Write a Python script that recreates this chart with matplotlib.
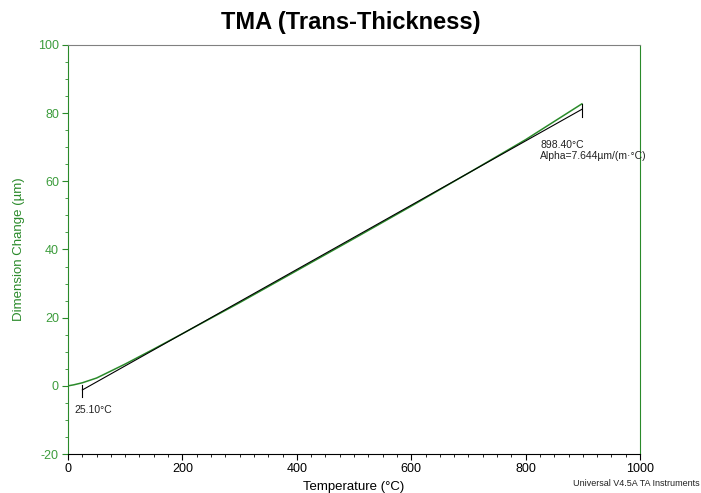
import matplotlib.pyplot as plt
from matplotlib.ticker import MultipleLocator

plt.rcParams['font.family'] = ['Liberation Sans', 'DejaVu Sans']
plt.rcParams['axes.unicode_minus'] = False

# measured dimension change (green trace)
temp = [0, 10, 25, 50, 100, 150, 200, 300, 400, 500, 600, 700, 800, 898.4]
dim_change = [0.0, 0.3, 0.9, 2.3, 6.4, 10.8, 15.3, 24.4, 33.8, 43.2, 52.7, 62.4, 72.2, 82.7]

# alpha fit line between the two analysis points
fit_temp = [25.10, 898.40]
fit_dim = [-1.2, 81.1]
alpha_label = 'Alpha=7.644µm/(m·°C)'

green = '#2a8a2a'
label_green = '#3c9c3c'

fig = plt.figure(figsize=(7.01, 4.93), dpi=100)
ax = fig.add_axes([0.097, 0.079, 0.816, 0.830])

ax.plot(temp, dim_change, color=green, lw=1.1)
ax.plot(fit_temp, fit_dim, color='black', lw=0.8)
for t, d in zip(fit_temp, fit_dim):
    ax.plot([t, t], [d - 2.2, d + 1.5], color='black', lw=0.8)

ax.text(fit_temp[0] - 13, fit_dim[0] - 6, '25.10°C', fontsize=7.5, color='#222222',
        ha='left', va='center')
ax.text(fit_temp[1] - 73, fit_dim[1] - 12, '898.40°C\n' + alpha_label, fontsize=7.5,
        color='#222222', ha='left', va='center', linespacing=1.15)

ax.set_xlim(0, 1000)
ax.set_ylim(-20, 100)
ax.xaxis.set_major_locator(MultipleLocator(200))
ax.xaxis.set_minor_locator(MultipleLocator(25))
ax.yaxis.set_major_locator(MultipleLocator(20))
ax.yaxis.set_minor_locator(MultipleLocator(5))
ax.tick_params(which='both', direction='out')
ax.tick_params(which='major', length=4, labelsize=9, pad=2.5)
ax.tick_params(which='minor', length=2.5)
ax.tick_params(axis='y', which='both', colors=green, labelcolor=label_green)
ax.tick_params(axis='x', which='both', colors='black')

ax.spines['left'].set_color(green)
ax.spines['right'].set_color(green)
ax.spines['top'].set_color('#808080')
ax.spines['bottom'].set_color('black')

ax.set_xlabel('Temperature (°C)', fontsize=9.5, labelpad=4)
ax.set_ylabel('Dimension Change (µm)', fontsize=9.5, color=green, labelpad=9)
fig.suptitle('TMA (Trans-Thickness)', fontsize=17, fontweight='bold', y=0.978)
fig.text(0.998, 0.02, 'Universal V4.5A TA Instruments', fontsize=6.5, ha='right',
         va='center', color='#222222')

fig.savefig('out.png', dpi=100)
